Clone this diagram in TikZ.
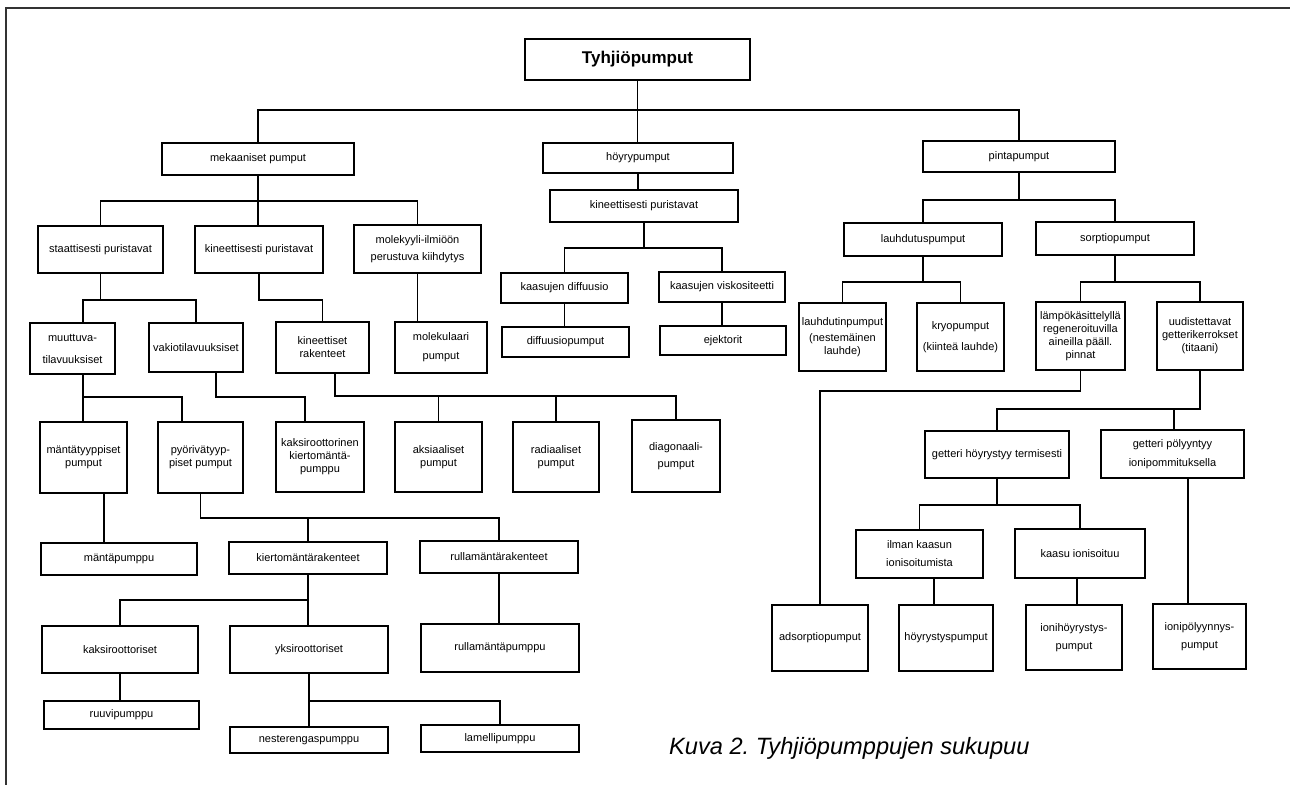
\documentclass[tikz,border=0pt]{standalone}
\usepackage{fontspec}
\setmainfont{Liberation Sans}
\usetikzlibrary{calc}

\begin{document}
\begin{tikzpicture}[
  x=1pt, y=-1pt,
  font=\fontsize{11}{13}\selectfont,
  box/.style 2 args={draw, line width=1.6pt, rectangle, align=center, inner sep=1pt, minimum width=#1pt, minimum height=#2pt},
  rootbox/.style={draw, line width=1.8pt, rectangle, minimum width=225pt, minimum height=41pt, font=\fontsize{17}{20}\selectfont\bfseries},
  link/.style={line width=1.4pt},
  frame/.style={line width=1.8pt, draw=black!80},
  caption/.style={anchor=west, inner sep=0pt, font=\fontsize{23.6}{27}\selectfont\itshape}
]
\useasboundingbox (0,0) rectangle (1290,785);
\draw[frame] (1290,8) -- (6,8) -- (6,785);

\node[rootbox] (root) at (637.5,59.5) {Tyhjiöpumput};

% main groups
\node[box={192}{32}] (mek) at (258,159)    {mekaaniset pumput};
\node[box={190}{30}] (hoy) at (638,158)    {höyrypumput};
\node[box={192}{31}] (pin) at (1019,156.5) {pintapumput};

% mechanical branch
\node[box={125}{47}] (staat) at (100.5,249.5) {staattisesti puristavat};
\node[box={128}{47}] (kinp)  at (259,249.5)   {kineettisesti puristavat};
\node[box={127}{48}] (mol)   at (417.5,249)   {molekyyli-ilmiöön\\[4pt]perustuva kiihdytys};

\node[box={85}{51}] (muut) at (72.5,348.5) {muuttuva-\\[9pt]tilavuuksiset};
\node[box={94}{49}] (vaki) at (196,347.5)  {vakiotilavuuksiset};
\node[box={93}{51}] (kinr) at (322.5,347.5) {kineettiset\\rakenteet};
\node[box={92}{51}] (molp) at (441,347.5)  {molekulaari\\[6pt]pumput};

\node[box={87}{71}] (mant) at (83.5,457.5) {mäntätyyppiset\\pumput};
\node[box={85}{71}] (pyor) at (200.5,457.5) {pyörivätyyp-\\piset pumput};
\node[box={88}{70}] (kakr) at (320,457)    {kaksiroottorinen\\kiertomäntä-\\pumppu};
\node[box={87}{70}] (aks)  at (438.5,457)  {aksiaaliset\\pumput};
\node[box={86}{70}] (rad)  at (556,457)    {radiaaliset\\pumput};
\node[box={88}{72}] (diag) at (676,456)    {diagonaali-\\[4pt]pumput};

\node[box={156}{32}] (mpum) at (119,559) {mäntäpumppu};
\node[box={158}{32}] (kier) at (308,558) {kiertomäntärakenteet};
\node[box={158}{32}] (rull) at (499,557) {rullamäntärakenteet};

\node[box={156}{47}] (kaks) at (120,649.5) {kaksiroottoriset};
\node[box={158}{47}] (yks)  at (309,649.5) {yksiroottoriset};
\node[box={158}{48}] (rpum) at (500,648)   {rullamäntäpumppu};

\node[box={155}{28}] (ruuv) at (121.5,715) {ruuvipumppu};
\node[box={158}{26}] (nest) at (309,740)   {nesterengaspumppu};
\node[box={158}{27}] (lame) at (500,738.5) {lamellipumppu};

% vapour branch
\node[box={188}{32}] (kinh) at (644,206)   {kineettisesti puristavat};
\node[box={127}{30}] (kdif) at (564.5,288) {kaasujen diffuusio};
\node[box={126}{30}] (kvis) at (722,287)   {kaasujen viskositeetti};
\node[box={127}{30}] (dpum) at (565.5,342) {diffuusiopumput};
\node[box={126}{29}] (ejek) at (723,340.5) {ejektorit};

% surface branch
\node[box={158}{33}] (lauh) at (923,239.5)  {lauhdutuspumput};
\node[box={158}{33}] (sorp) at (1115,238.5) {sorptiopumput};
\node[box={87}{68}] (lpum) at (842.5,337)  {lauhdutinpumput\\[3pt](nestemäinen\\lauhde)};
\node[box={87}{68}] (kryo) at (960.5,337)  {kryopumput\\[8pt](kiinteä lauhde)};
\node[box={89}{68}] (lamp) at (1080.5,336) {lämpökäsittelyllä\\regeneroituvilla\\aineilla pääll.\\pinnat};
\node[box={86}{68}] (uud)  at (1200,336)   {uudistettavat\\getterikerrokset\\(titaani)};

\node[box={144}{47}] (ghoy) at (997,454.5)  {getteri höyrystyy termisesti};
\node[box={143}{48}] (gpol) at (1172.5,454) {getteri pölyyntyy\\[6pt]ionipommituksella};
\node[box={127}{48}] (ilman) at (919.5,554) {ilman kaasun\\[5pt]ionisoitumista};
\node[box={130}{49}] (kion)  at (1080,553.5) {kaasu ionisoituu};

\node[box={96}{66}] (adso) at (820,638)    {adsorptiopumput};
\node[box={94}{66}] (hpum) at (946,638)    {höyrystyspumput};
\node[box={96}{65}] (ihp)  at (1074,637.5) {ionihöyrystys-\\[5pt]pumput};
\node[box={93}{65}] (ipp)  at (1199.5,636.5) {ionipölyynnys-\\[5pt]pumput};

\node[caption] (cap) at (669,748) {Kuva 2.\ Tyhjiöpumppujen sukupuu};

% root links
\draw[link] (root.south) -- (root.south |- hoy.north);
\draw[link] (root.south |- 0,110) -| (mek.north);
\draw[link] (root.south |- 0,110) -| (pin.north);

% mechanical links
\draw[link] (mek.south) -- (mek.south |- kinp.north);
\draw[link] (mek.south |- 0,201) -| (staat.north);
\draw[link] (mek.south |- 0,201) -| (mol.north);
\draw[link] (staat.south) -- ++(0,26) -| (vaki.north);
\draw[link] (staat.south) -- ++(0,26) -| (muut.north -| 83,0);
\draw[link] (kinp.south) -- ++(0,26) -| (kinr.north);
\draw[link] (mol.south) -- (mol.south |- molp.north);
\draw[link] (muut.south -| 83,0) -- (mant.north -| 83,0);
\draw[link] (muut.south -| 83,0) -- ++(0,22) -| (pyor.north -| 182,0);
\draw[link] (vaki.south -| 216,0) -- ++(0,24) -| (kakr.north -| 305,0);
\draw[link] (kinr.south -| 335,0) -- ++(0,22) -| (aks.north);
\draw[link] (kinr.south -| 335,0) -- ++(0,22) -| (rad.north);
\draw[link] (kinr.south -| 335,0) -- ++(0,22) -| (diag.north);
\draw[link] (mant.south -| 104,0) -- (mpum.north -| 104,0);
\draw[link] (pyor.south) -- ++(0,24) -| (kier.north);
\draw[link] (pyor.south) -- ++(0,24) -| (rull.north);
\draw[link] (kier.south) -- (kier.south |- yks.north);
\draw[link] (kier.south |- 0,600) -| (kaks.north);
\draw[link] (rull.south) -- (rull.south |- rpum.north);
\draw[link] (kaks.south) -- (kaks.south |- ruuv.north);
\draw[link] (yks.south) -- (yks.south |- nest.north);
\draw[link] (yks.south |- 0,701) -| (lame.north);

% vapour links
\draw[link] (hoy.south) -- (hoy.south |- kinh.north);
\draw[link] (kinh.south) -- ++(0,25) -| (kdif.north);
\draw[link] (kinh.south) -- ++(0,25) -| (kvis.north);
\draw[link] (kdif.south) -- (kdif.south |- dpum.north);
\draw[link] (kvis.south) -- (kvis.south |- ejek.north);

% surface links
\draw[link] (pin.south) -- ++(0,27) -| (lauh.north);
\draw[link] (pin.south) -- ++(0,27) -| (sorp.north);
\draw[link] (lauh.south) -- ++(0,25) -| (lpum.north);
\draw[link] (lauh.south) -- ++(0,25) -| (kryo.north);
\draw[link] (sorp.south) -- ++(0,26) -| (lamp.north);
\draw[link] (sorp.south) -- ++(0,26) -| (uud.north);
\draw[link] (lamp.south) -- ++(0,20) -| (adso.north);
\draw[link] (uud.south) -- ++(0,38) -| (ghoy.north);
\draw[link] (uud.south) -- ++(0,38) -| (gpol.north -| 1174,0);
\draw[link] (ghoy.south) -- ++(0,26) -| (ilman.north);
\draw[link] (ghoy.south) -- ++(0,26) -| (kion.north);
\draw[link] (ilman.south -| 934,0) -- (hpum.north -| 934,0);
\draw[link] (kion.south -| 1077,0) -- (ihp.north -| 1077,0);
\draw[link] (gpol.south -| 1188,0) -- (ipp.north -| 1188,0);
\end{tikzpicture}
\end{document}
